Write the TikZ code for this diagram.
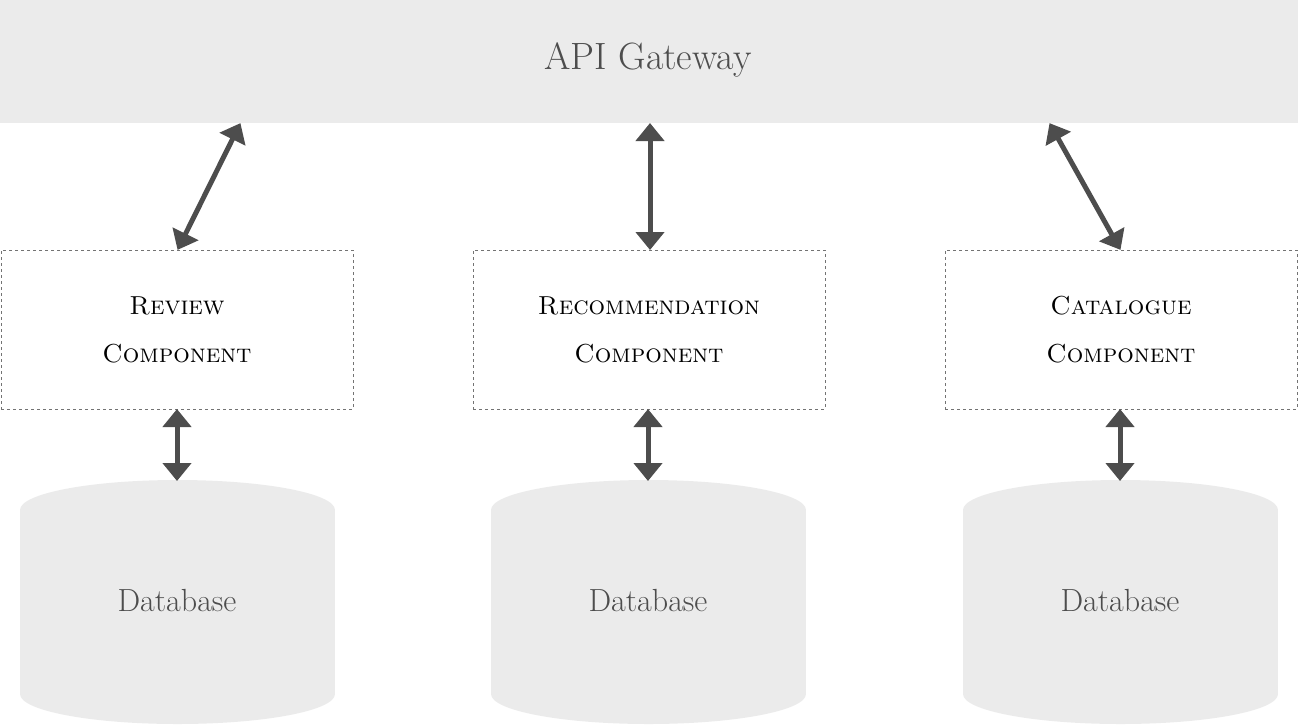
\documentclass[tikz,border=0pt]{standalone}
\usetikzlibrary{arrows.meta}
\definecolor{bg}{HTML}{EBEBEB}
\definecolor{ar}{HTML}{4D4D4D}
\begin{document}
\begin{tikzpicture}[x=1pt,y=-1pt,
  comp/.style={draw=gray!90!black,dashed,line width=1pt,minimum width=352pt,minimum height=159pt,align=center,font=\fontsize{26}{48}\selectfont\scshape},
  dbtxt/.style={font=\fontsize{32}{36}\selectfont,text=ar},
  link/.style={draw=ar,line width=5pt,{Triangle[width=28pt,length=18pt]}-{Triangle[width=28pt,length=18pt]},shorten <=-1pt,shorten >=-1pt}]
\useasboundingbox (0,0) rectangle (1298,724);
\fill[bg] (0,0) rectangle (1298,123);
\node[font=\fontsize{38}{44}\selectfont,text=ar] (gw) at (648,60) {API Gateway};
\node[comp] (c1) at (177,329.5) {Review\\Component};
\node[comp] (c2) at (649,329.5) {Recommendation\\Component};
\node[comp] (c3) at (1121,329.5) {Catalogue\\Component};
\foreach \x/\n in {177/1,648/2,1120/3}{
  \fill[bg] (\x-157,510) rectangle (\x+158,694);
  \fill[bg] (\x+0.5,510) ellipse [x radius=157.5, y radius=30];
  \fill[bg] (\x+0.5,694) ellipse [x radius=157.5, y radius=30];
  \node[dbtxt] (d\n) at (\x,601) {Database};
  \coordinate (dt\n) at (\x,480);
  \coordinate (cb\n) at (\x,410);
}
\coordinate (g1) at (240,124); \coordinate (t1) at (178,249);
\coordinate (g2) at (650,124); \coordinate (t2) at (650,249);
\coordinate (g3) at (1050,124); \coordinate (t3) at (1120,249);
\foreach \n in {1,2,3}{
  \draw[link] (g\n) -- (t\n);
  \draw[link] (cb\n) -- (dt\n);
}
\end{tikzpicture}
\end{document}
